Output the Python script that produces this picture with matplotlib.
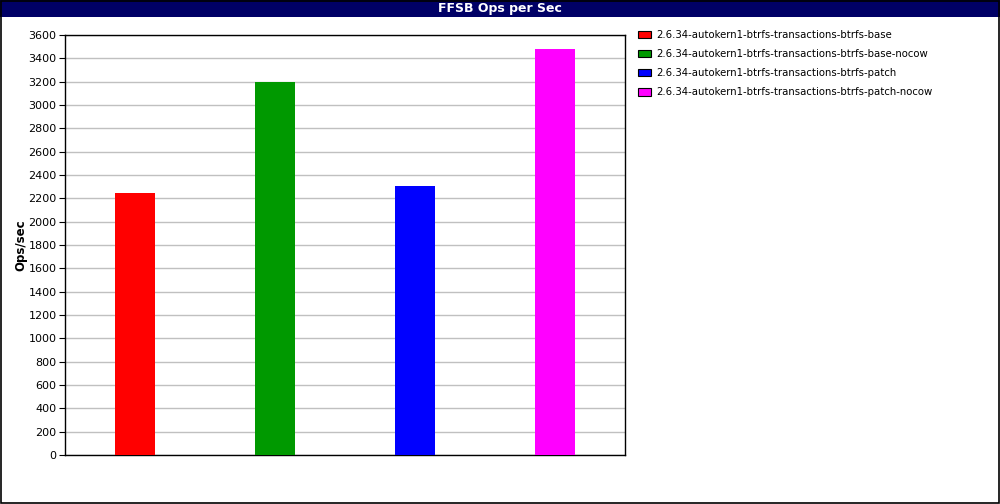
import matplotlib.pyplot as plt
from matplotlib.patches import Rectangle

labels = [
    "2.6.34-autokern1-btrfs-transactions-btrfs-base",
    "2.6.34-autokern1-btrfs-transactions-btrfs-base-nocow",
    "2.6.34-autokern1-btrfs-transactions-btrfs-patch",
    "2.6.34-autokern1-btrfs-transactions-btrfs-patch-nocow",
]
ops = [2245, 3195, 2305, 3480]
colors = ["#ff0000", "#009900", "#0000ff", "#ff00ff"]
yticks = list(range(0, 3601, 200))

W, H = 1000, 504
fig = plt.figure(figsize=(W / 100, H / 100), dpi=100)

# title bar and outer border
fig.patches.append(Rectangle((0, 1 - 17 / H), 1, 17 / H, transform=fig.transFigure,
                             facecolor="#000066", edgecolor="none", zorder=0))
fig.patches.append(Rectangle((0.0005, 0.001), 0.998, 0.997, transform=fig.transFigure,
                             facecolor="none", edgecolor="black", linewidth=1.2, zorder=5))
fig.text(0.5, 1 - 8.5 / H, "FFSB Ops per Sec", color="white", fontweight="bold",
         fontsize=9, ha="center", va="center")

ax = fig.add_axes([65 / W, 49 / H, 560 / W, 420 / H])
for i, (lab, v, c) in enumerate(zip(labels, ops, colors)):
    ax.bar(i, v, width=40 / 140, color=c, label=lab, zorder=3)

ax.set_xlim(-0.5, 3.5)
ax.set_ylim(0, 3600)
ax.set_yticks(yticks)
ax.set_xticks([])
ax.tick_params(axis="y", labelsize=8, length=4, direction="out", pad=2)
ax.yaxis.grid(True, color="#c0c0c0", linewidth=1, zorder=0)
for s in ax.spines.values():
    s.set_linewidth(1)
ax.set_ylabel("Ops/sec", fontweight="bold", fontsize=8.5, labelpad=1)

fig.legend(loc="upper left", bbox_to_anchor=(634 / W, 1 - 26 / H), frameon=False,
           fontsize=7.3, handlelength=1.3, handleheight=0.75, handletextpad=0.5,
           labelspacing=0.9, borderaxespad=0)
for h in fig.legends[0].legend_handles:
    h.set_edgecolor("black")
    h.set_linewidth(0.8)

fig.savefig("out.png", dpi=100)
